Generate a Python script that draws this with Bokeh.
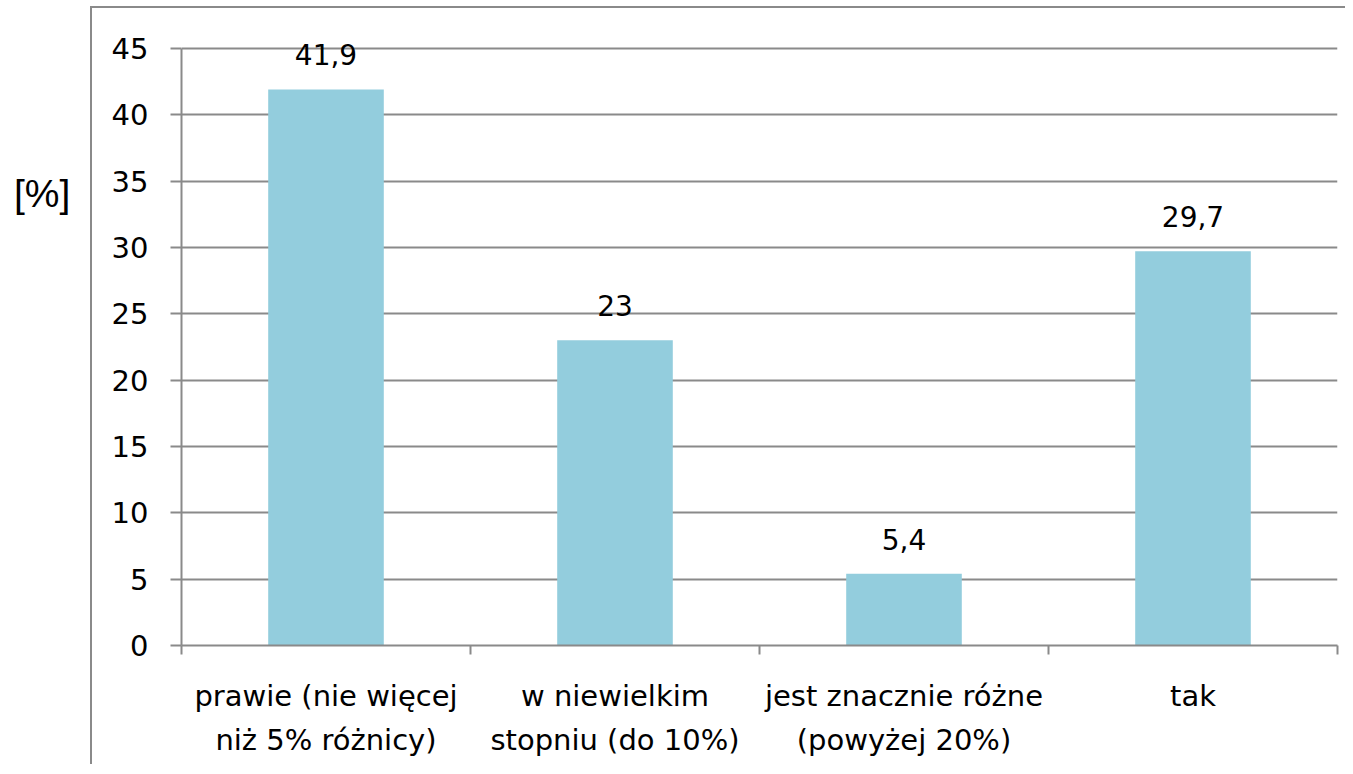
from bokeh.plotting import figure
from bokeh.models import Range1d, FixedTicker, Div, ColumnDataSource, LabelSet
from bokeh.layouts import row
from bokeh.embed import file_html
from bokeh.resources import INLINE
from bokeh.core.properties import value

categories = [
    "prawie (nie więcej\nniż 5% różnicy)",
    "w niewielkim\nstopniu (do 10%)",
    "jest znacznie różne\n(powyżej 20%)",
    "tak",
]
values = [41.9, 23, 5.4, 29.7]
y_ticks = [0, 5, 10, 15, 20, 25, 30, 35, 40, 45]
y_unit = "[%]"

FONT = "DejaVu Sans"
GRAY = "#8a8a8a"
BAR = "#93CDDD"

n = len(categories)
positions = [i + 0.5 for i in range(n)]
boundaries = list(range(n + 1))
labels = [f"{v:g}".replace(".", ",") for v in values]

src = ColumnDataSource(dict(x=positions, top=values, label=labels))

# extra headroom above the top tick so the value labels are not clipped
y_top = y_ticks[-1] * 48 / 45

p = figure(
    width=1255, height=758,
    x_range=Range1d(0, n), y_range=Range1d(y_ticks[0], y_top),
    output_backend="svg", toolbar_location=None,
    min_border_left=89, min_border_top=0, min_border_right=10, min_border_bottom=121,
)
p.outline_line_color = None
p.background_fill_color = "white"
p.border_fill_color = "white"
p.styles = {"border-left": f"2px solid {GRAY}", "border-top": f"2px solid {GRAY}",
            "margin-top": "6px"}

p.xgrid.visible = False
p.ygrid.grid_line_color = GRAY
p.ygrid.grid_line_width = 2
p.ygrid.ticker = FixedTicker(ticks=y_ticks)

p.vbar(x="x", top="top", width=0.4, source=src, fill_color=BAR, line_color=None)
p.add_layout(LabelSet(x="x", y="top", text="label", source=src, text_align="center",
                      text_baseline="alphabetic", y_offset=24,
                      text_font=value(FONT), text_font_size=value("28px"),
                      text_color=value("black")))

ya = p.yaxis[0]
ya.ticker = FixedTicker(ticks=y_ticks)
ya.bounds = (y_ticks[0], y_ticks[-1])
ya.axis_line_color = GRAY
ya.axis_line_width = 2
ya.major_tick_line_color = GRAY
ya.major_tick_line_width = 2
ya.major_tick_out = 11
ya.major_tick_in = 0
ya.minor_tick_line_color = None
ya.major_label_standoff = 22
ya.major_label_text_font = FONT
ya.major_label_text_font_size = "29px"
ya.major_label_text_color = "black"

xa = p.xaxis[0]
xa.ticker = FixedTicker(ticks=positions, minor_ticks=boundaries)
xa.major_label_overrides = {pos: cat for pos, cat in zip(positions, categories)}
xa.axis_line_color = GRAY
xa.axis_line_width = 2
xa.major_tick_line_color = None
xa.major_tick_out = 0
xa.major_tick_in = 0
xa.minor_tick_line_color = GRAY
xa.minor_tick_line_width = 2
xa.minor_tick_out = 9
xa.minor_tick_in = 0
xa.major_label_standoff = 24
xa.major_label_text_font = FONT
xa.major_label_text_font_size = "29px"
xa.major_label_text_color = "black"
xa.major_label_text_line_height = 1.3

div = Div(
    text=f'<div style="margin-top:167px;margin-left:9px;font-family:\'Liberation Sans\';font-size:39px;color:#000;line-height:1.15">{y_unit}</div>',
    width=80, height=766,
)

layout = row(div, p)
open("out.html", "w").write(file_html(layout, INLINE))
